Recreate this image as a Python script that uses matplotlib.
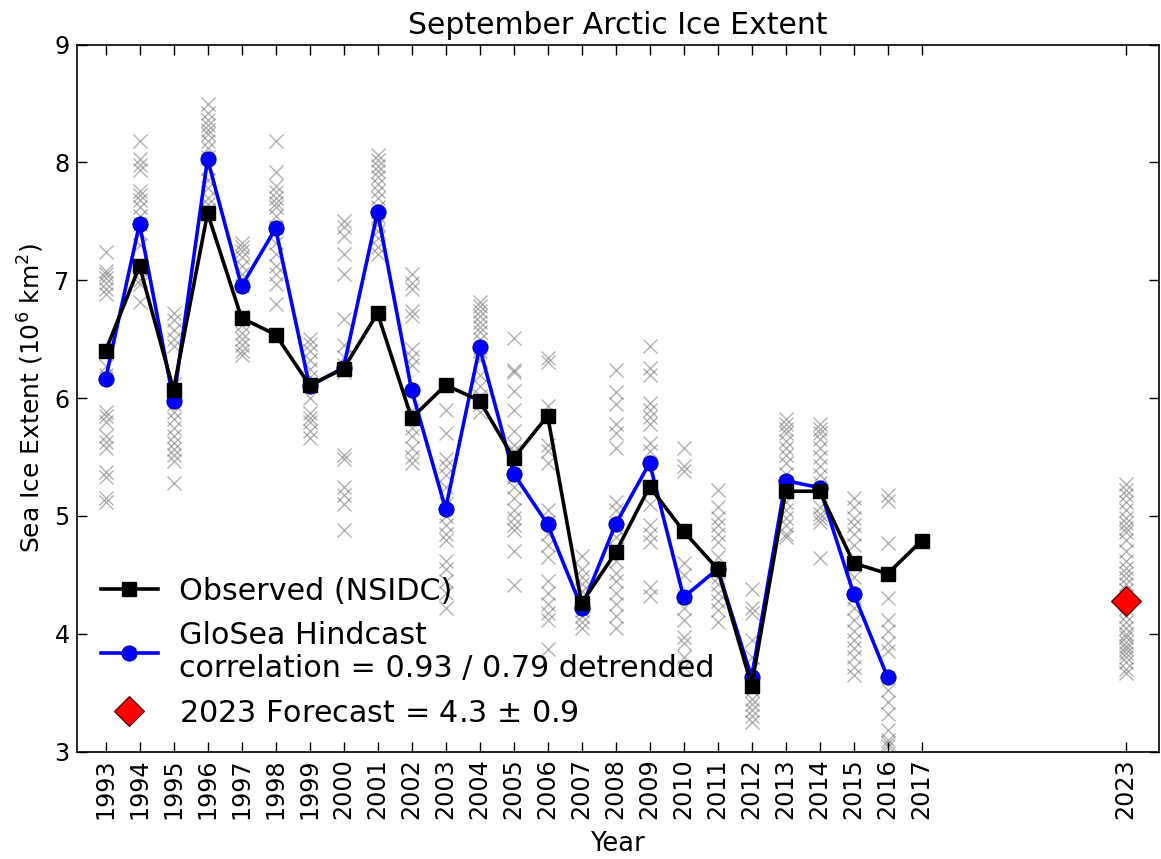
import matplotlib
matplotlib.use("Agg")
import matplotlib.pyplot as plt
import numpy as np

# ---------------- data ----------------
years_obs = [1993, 1994, 1995, 1996, 1997, 1998, 1999, 2000, 2001, 2002, 2003, 2004,
             2005, 2006, 2007, 2008, 2009, 2010, 2011, 2012, 2013, 2014, 2015, 2016, 2017]
observed = [6.40, 7.12, 6.07, 7.57, 6.68, 6.54, 6.11, 6.25, 6.72, 5.83, 6.11, 5.98,
            5.49, 5.85, 4.26, 4.69, 5.25, 4.87, 4.55, 3.56, 5.21, 5.21, 4.60, 4.51, 4.79]

years_hc = years_obs[:-1]
hindcast = [6.16, 7.48, 5.98, 8.03, 6.95, 7.44, 6.10, 6.26, 7.58, 6.07, 5.06, 6.43,
            5.36, 4.93, 4.22, 4.93, 5.45, 4.31, 4.55, 3.63, 5.30, 5.24, 4.34, 3.63]

forecast_year = 2023
forecast_value = 4.28

ens_1993 = [7.24, 7.08, 7.05, 7.02, 6.98, 6.93, 6.88, 6.40, 6.27, 6.20, 5.88, 5.85, 5.80, 5.68, 5.63, 5.58, 5.37, 5.33, 5.15, 5.12]
ens_1994 = [8.18, 8.03, 7.98, 7.94, 7.76, 7.72, 7.68, 7.62, 7.55, 7.48, 7.40, 7.30, 7.10, 7.00, 6.97, 6.82]
ens_1995 = [6.72, 6.66, 6.58, 6.50, 6.44, 6.12, 6.05, 5.95, 5.88, 5.82, 5.75, 5.68, 5.62, 5.57, 5.52, 5.47, 5.28]
ens_1996 = [8.50, 8.42, 8.36, 8.32, 8.28, 8.24, 8.18, 8.12, 8.05, 7.95, 7.85, 7.78, 7.70, 7.65, 7.60]
ens_1997 = [7.32, 7.28, 7.25, 7.20, 7.12, 7.05, 6.95, 6.70, 6.62, 6.55, 6.50, 6.45, 6.40, 6.37]
ens_1998 = [8.18, 7.92, 7.80, 7.75, 7.70, 7.66, 7.62, 7.55, 7.45, 7.32, 7.22, 7.12, 7.05, 6.97, 6.80]
ens_1999 = [6.50, 6.46, 6.40, 6.32, 6.25, 6.18, 6.12, 6.00, 5.87, 5.83, 5.80, 5.72, 5.66]
ens_2000 = [7.50, 7.45, 7.38, 7.22, 7.05, 6.67, 6.45, 6.35, 6.28, 6.22, 5.52, 5.48, 5.25, 5.18, 5.10, 4.88]
ens_2001 = [8.06, 8.02, 7.97, 7.93, 7.88, 7.82, 7.76, 7.70, 7.62, 7.55, 7.48, 7.42, 7.36, 7.28, 7.22]
ens_2002 = [7.05, 6.98, 6.93, 6.74, 6.70, 6.42, 6.35, 6.28, 5.90, 5.75, 5.68, 5.58, 5.50, 5.45]
ens_2003 = [5.90, 5.70, 5.48, 5.42, 5.35, 5.25, 5.10, 5.00, 4.92, 4.85, 4.80, 4.62, 4.55, 4.45, 4.35, 4.22]
ens_2004 = [6.82, 6.78, 6.74, 6.70, 6.65, 6.60, 6.56, 6.50, 6.40, 6.32, 6.20, 6.10, 6.02, 5.95, 5.88]
ens_2005 = [6.51, 6.24, 6.22, 6.06, 5.90, 5.72, 5.60, 5.55, 5.42, 5.33, 5.25, 5.15, 5.05, 4.98, 4.92, 4.88, 4.70, 4.41]
ens_2006 = [6.34, 6.31, 5.93, 5.60, 5.55, 5.45, 5.05, 4.95, 4.85, 4.75, 4.65, 4.45, 4.35, 4.25, 4.18, 4.12, 3.87]
ens_2007 = [4.66, 4.55, 4.48, 4.42, 4.36, 4.30, 4.25, 4.20, 4.15, 4.10, 4.05]
ens_2008 = [6.24, 6.05, 5.95, 5.78, 5.70, 5.58, 5.12, 5.05, 4.90, 4.82, 4.72, 4.62, 4.52, 4.45, 4.35, 4.25, 4.15, 4.05]
ens_2009 = [6.44, 6.26, 6.20, 5.96, 5.90, 5.84, 5.78, 5.62, 5.55, 5.22, 5.10, 4.92, 4.85, 4.78, 4.40, 4.32]
ens_2010 = [5.58, 5.42, 5.38, 4.60, 4.50, 4.32, 4.22, 4.12, 3.97, 3.92, 3.80, 3.72]
ens_2011 = [5.22, 5.08, 4.98, 4.92, 4.85, 4.78, 4.65, 4.55, 4.48, 4.42, 4.35, 4.28, 4.20, 4.10]
ens_2012 = [4.38, 4.22, 4.18, 3.95, 3.80, 3.70, 3.60, 3.52, 3.45, 3.40, 3.35, 3.30, 3.25]
ens_2013 = [5.82, 5.78, 5.74, 5.70, 5.64, 5.58, 5.52, 5.45, 5.36, 5.28, 5.12, 5.05, 4.98, 4.92, 4.85, 4.82]
ens_2014 = [5.78, 5.74, 5.70, 5.65, 5.58, 5.50, 5.42, 5.35, 5.28, 5.08, 5.02, 4.98, 4.95, 4.64]
ens_2015 = [5.15, 5.08, 4.98, 4.92, 4.85, 4.75, 4.58, 4.48, 4.30, 4.22, 4.12, 4.02, 3.95, 3.88, 3.80, 3.72, 3.65]
ens_2016 = [5.18, 5.13, 4.77, 4.30, 4.12, 4.02, 3.92, 3.85, 3.52, 3.42, 3.32, 3.18, 3.10, 3.07, 3.05]
ens_2023 = [5.27, 5.22, 5.18, 5.12, 5.05, 4.98, 4.94, 4.90, 4.86, 4.80, 4.70, 4.62, 4.56, 4.52, 4.47,
            4.42, 4.37, 4.32, 4.22, 4.15, 4.10, 4.05, 4.00, 3.97, 3.93, 3.90, 3.87, 3.84, 3.80, 3.76, 3.70, 3.67]

ens_years = years_hc + [forecast_year]
ens_values = [ens_1993, ens_1994, ens_1995, ens_1996, ens_1997, ens_1998, ens_1999, ens_2000,
              ens_2001, ens_2002, ens_2003, ens_2004, ens_2005, ens_2006, ens_2007, ens_2008,
              ens_2009, ens_2010, ens_2011, ens_2012, ens_2013, ens_2014, ens_2015, ens_2016, ens_2023]

tick_years = years_obs + [forecast_year]

# ---------------- plot ----------------
fig = plt.figure(figsize=(11.61, 8.59), dpi=100)
ax = fig.add_axes([0.066, 0.125, 0.932, 0.823])

for yr, vals in zip(ens_years, ens_values):
    ax.plot([yr] * len(vals), vals, linestyle='none', marker='x', color='0.45',
            alpha=0.55, markersize=10, markeredgewidth=1.0, zorder=1)

ax.plot(years_hc, hindcast, color='blue', lw=2.6, marker='o', markersize=11,
        markerfacecolor='blue', markeredgecolor='#000080', markeredgewidth=0.6, zorder=3,
        label='GloSea Hindcast\ncorrelation = 0.93 / 0.79 detrended')
ax.plot(years_obs, observed, color='black', lw=2.6, marker='s', markersize=10,
        markerfacecolor='black', zorder=4, label='Observed (NSIDC)')
ax.plot([forecast_year], [forecast_value], linestyle='none', marker='D', markersize=15,
        markerfacecolor='red', markeredgecolor='#400000', markeredgewidth=0.8, zorder=5,
        label=r'2023 Forecast = 4.3 $\pm$ 0.9')

ax.set_xlim(1992.15, 2023.97)
ax.set_ylim(3, 9)
ax.set_xticks(tick_years)
ax.set_xticklabels([str(y) for y in tick_years], rotation=90)
ax.set_yticks([3, 4, 5, 6, 7, 8, 9])
ax.tick_params(direction='in', top=True, right=True, labelsize=17.2, length=7, width=1, pad=5)
for sp in ax.spines.values():
    sp.set_linewidth(1.2)

ax.set_title('September Arctic Ice Extent', fontsize=21.5, pad=8)
ax.set_xlabel('Year', fontsize=18.5, labelpad=8)
ax.set_ylabel(r'Sea Ice Extent (10$^6$ km$^2$)', fontsize=18, labelpad=6)

handles, labels = ax.get_legend_handles_labels()
order = [1, 0, 2]
ax.legend([handles[i] for i in order], [labels[i] for i in order], loc='lower left',
          frameon=False, fontsize=21.7, numpoints=1, handlelength=1.9,
          handletextpad=0.7, borderaxespad=0.4, labelspacing=0.5)

fig.savefig('out.png', dpi=100)
